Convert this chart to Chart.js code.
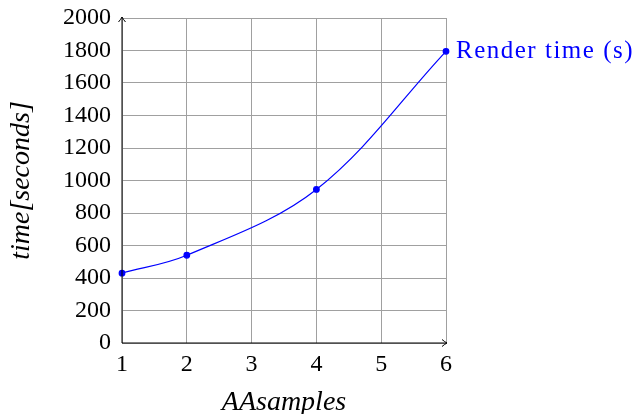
<!DOCTYPE html>
<html>
<head>
<meta charset="utf-8">
<script src="https://cdn.jsdelivr.net/npm/chart.js@4"></script>
<style>
  html, body { margin: 0; padding: 0; background: #fff; }
  #wrap { width: 638px; height: 414px; }
</style>
</head>
<body>
<div id="wrap"><canvas id="chart" width="638" height="414"></canvas></div>
<script>
// data
const aaSamples = [1, 2, 4, 6];
const renderTime = [430, 540, 945, 1795];
const seriesName = "Render time (s)";

const serif = "'Liberation Serif', 'DejaVu Serif', serif";

// axes with little arrow heads + label next to the last point
const axesPlugin = {
  id: "axesArrows",
  afterDatasetsDraw(chart) {
    const ctx = chart.ctx;
    const a = chart.chartArea;
    ctx.save();
    ctx.strokeStyle = "#000";
    ctx.lineWidth = 1;
    ctx.beginPath();
    ctx.moveTo(a.left, a.bottom);
    ctx.lineTo(a.left, a.top - 1);
    ctx.moveTo(a.left, a.bottom);
    ctx.lineTo(a.right + 1, a.bottom);
    ctx.stroke();
    // arrow heads
    ctx.beginPath();
    ctx.moveTo(a.left - 3.5, a.top + 4);
    ctx.quadraticCurveTo(a.left - 1, a.top + 1, a.left, a.top - 1);
    ctx.quadraticCurveTo(a.left + 1, a.top + 1, a.left + 3.5, a.top + 4);
    ctx.moveTo(a.right - 4, a.bottom - 3.5);
    ctx.quadraticCurveTo(a.right - 1, a.bottom - 1, a.right + 1, a.bottom);
    ctx.quadraticCurveTo(a.right - 1, a.bottom + 1, a.right - 4, a.bottom + 3.5);
    ctx.stroke();

    const pts = chart.getDatasetMeta(0).data;
    const last = pts[pts.length - 1];
    ctx.fillStyle = "#0000ff";
    ctx.font = "25px " + serif;
    ctx.letterSpacing = "1.5px";
    ctx.textAlign = "left";
    ctx.textBaseline = "middle";
    ctx.fillText(seriesName, last.x + 10, last.y);
    ctx.restore();
  }
};

const chart = document.querySelector("#chart").getContext("2d");

new Chart(chart, {
  type: "line",
  data: {
    datasets: [
      {
        label: seriesName,
        data: aaSamples.map((x, i) => ({ x: x, y: renderTime[i] })),
        borderColor: "#0000ff",
        backgroundColor: "#0000ff",
        borderWidth: 1.2,
        pointRadius: 2.8,
        pointHoverRadius: 2.8,
        tension: 0.35,
        clip: false
      }
    ]
  },
  options: {
    responsive: false,
    animation: false,
    layout: { padding: { top: 18, right: 192, left: 0, bottom: 0 } },
    plugins: {
      legend: { display: false },
      tooltip: { enabled: false }
    },
    scales: {
      x: {
        type: "linear",
        min: 1,
        max: 6,
        afterFit: (s) => { s.height = 71; s.paddingLeft = 0; s.paddingRight = 0; },
        ticks: {
          stepSize: 1,
          color: "#000",
          padding: 7,
          callback: (v) => String(v),
          font: { family: serif, size: 24 }
        },
        grid: { color: "#a0a0a0", drawTicks: false },
        border: { display: false },
        title: {
          display: true,
          text: "AAsamples",
          color: "#000",
          padding: { top: 0, bottom: -3 },
          font: { family: serif, size: 28, style: "italic", lineHeight: 1.0 }
        }
      },
      y: {
        min: 0,
        max: 2000,
        afterFit: (s) => { s.width = 122; s.paddingTop = 0; s.paddingBottom = 0; },
        ticks: {
          stepSize: 200,
          color: "#000",
          padding: 11,
          callback: (v) => String(v),
          font: { family: serif, size: 24 }
        },
        grid: { color: "#a0a0a0", drawTicks: false },
        border: { display: false },
        title: {
          display: true,
          text: "time[seconds]",
          color: "#000",
          padding: { top: 8, bottom: 0 },
          font: { family: serif, size: 28, style: "italic", lineHeight: 1.0 }
        }
      }
    }
  },
  plugins: [axesPlugin]
});
</script>
</body>
</html>
